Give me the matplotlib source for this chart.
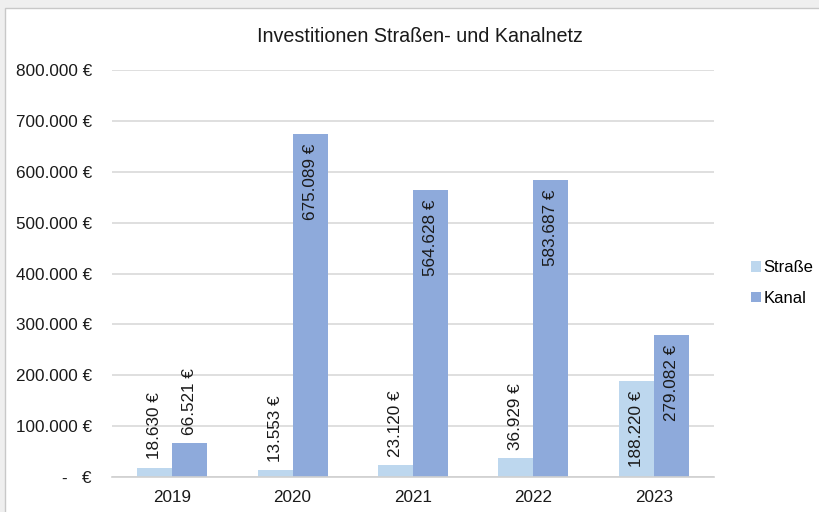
import numpy as np
import matplotlib
matplotlib.use("Agg")
import matplotlib.pyplot as plt
from matplotlib.patches import Rectangle

plt.rcParams['font.family'] = ['Liberation Sans', 'DejaVu Sans']

# data
years = ['2019', '2020', '2021', '2022', '2023']
strasse = [18630, 13553, 23120, 36929, 188220]
kanal = [66521, 675089, 564628, 583687, 279082]
yticks = [0, 100000, 200000, 300000, 400000, 500000, 600000, 700000, 800000]


def eur(v):
    if v == 0:
        return '-   €'
    return '{:,}'.format(int(v)).replace(',', '.') + ' €'


fs = 12.3
fig = plt.figure(figsize=(8.19, 5.12), dpi=100)
fig.patch.set_facecolor('#efefef')
# white chart area with thin border
bg = Rectangle((5/819, -0.01), 1.0, (512-8)/512 + 0.01, transform=fig.transFigure,
               facecolor='white', edgecolor='#c8c8c8', linewidth=1.0, zorder=-10)
fig.patches.append(bg)

ax = fig.add_axes([112/819, 35/512, 602/819, 407/512])
ax.set_facecolor('none')

x = np.arange(len(years))
w = 0.29
c_str = '#bdd7ee'
c_kan = '#8eaadb'
b1 = ax.bar(x - w/2, strasse, w, color=c_str, label='Straße', zorder=2)
b2 = ax.bar(x + w/2, kanal, w, color=c_kan, label='Kanal', zorder=2)

for bars in (b1, b2):
    for rect in bars:
        v = rect.get_height()
        cx = rect.get_x() + rect.get_width()/2
        if v > 150000:
            ax.annotate(eur(v), (cx, v), xytext=(0, -7), textcoords='offset points',
                        rotation=90, ha='center', va='top', fontsize=fs, color='#1a1a1a')
        else:
            ax.annotate(eur(v), (cx, v), xytext=(0, 6), textcoords='offset points',
                        rotation=90, ha='center', va='bottom', fontsize=fs, color='#1a1a1a')

ax.set_xlim(-0.5, 4.5)
ax.set_ylim(0, 800000)
ax.set_yticks(yticks)
ax.set_yticklabels([eur(v) for v in yticks], fontsize=fs, color='#1a1a1a')
ax.set_xticks(x)
ax.set_xticklabels(years, fontsize=fs, color='#1a1a1a')
ax.tick_params(length=0, pad=9)
ax.tick_params(axis='y', pad=14.5)
ax.grid(axis='y', color='#d9d9d9', linewidth=1.2, zorder=0)
for s in ['top', 'right', 'left']:
    ax.spines[s].set_visible(False)
ax.spines['bottom'].set_color('#d0d0d0')
ax.spines['bottom'].set_linewidth(1.2)

fig.text(420/819, 1 - 37/512, 'Investitionen Straßen- und Kanalnetz', ha='center', va='center',
         fontsize=14.2, color='#1a1a1a')

fig.legend(handles=[b1, b2], loc='center left', bbox_to_anchor=(751/819, 1 - 283/512),
           frameon=False, fontsize=12, handlelength=0.6, handleheight=0.6,
           handletextpad=0.15, labelspacing=0.95, borderpad=0, borderaxespad=0)

fig.savefig('out.png', dpi=100, facecolor=fig.get_facecolor())
